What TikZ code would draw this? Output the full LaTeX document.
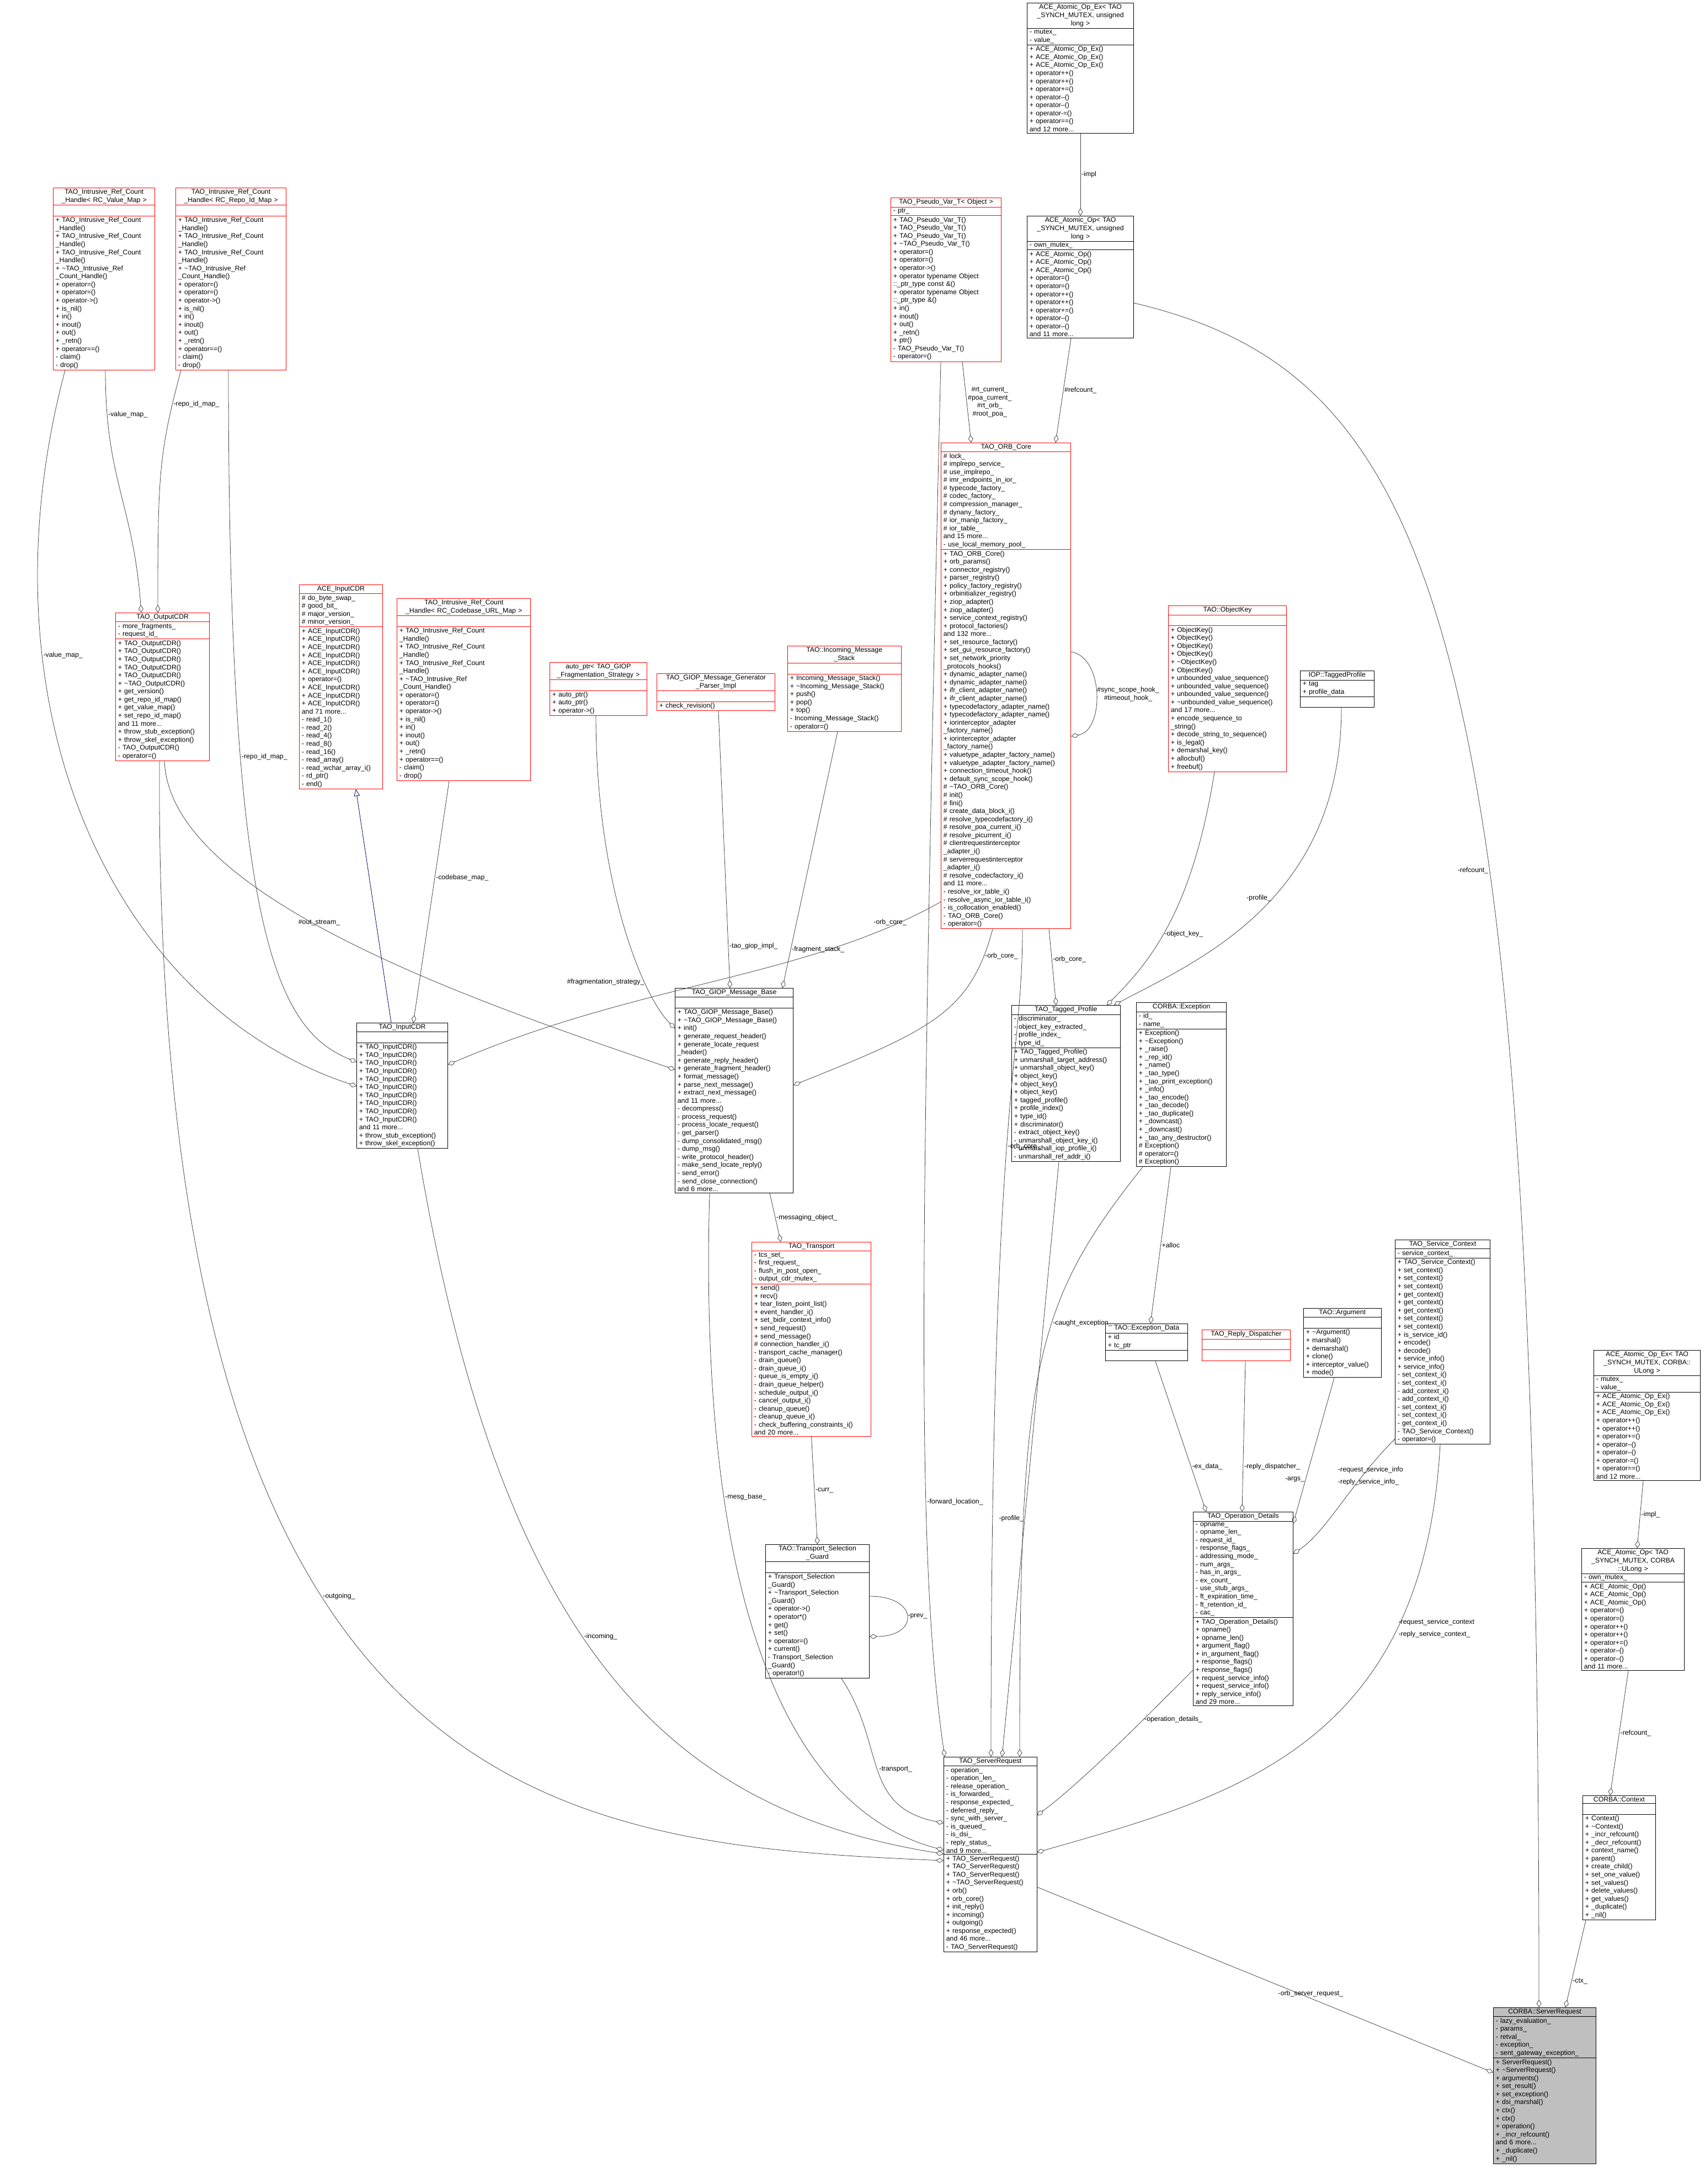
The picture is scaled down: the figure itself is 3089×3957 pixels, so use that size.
\documentclass[tikz,border=0pt]{standalone}
\usepackage{fontspec}
\setmainfont{Liberation Sans}
\usetikzlibrary{shapes.multipart,arrows.meta,calc,positioning}
\newcommand\dt{\textasciitilde}

\begin{document}
\catcode`\_=12
\begin{tikzpicture}[x=0.02cm,y=-0.02cm,
  every node/.style={font=\fontsize{7}{8.3}\selectfont},%
  c/.style={rectangle split,rectangle split parts=3,draw=black,anchor=north west,%
    align=left,inner xsep=2.5pt,inner ysep=1.2pt,line width=.5pt,text width=#1},%
  rc/.style={c=#1,draw=red},%
  g/.style={c=#1,fill=black!25},%
  a/.style={-{Diamond[open,length=8pt,width=5pt]},draw=black!75,line width=.45pt},%
  inh/.style={-{Triangle[open,length=7pt,width=6pt]},draw=blue!40!black,line width=.45pt},%
  l/.style={font=\fontsize{7}{8.3}\selectfont,inner sep=1pt,align=center},%
  ]
  \useasboundingbox (0,0) rectangle (3089,3957);

  \node (vmap) [rc=100pt] at (96,340) {\hfill TAO_Intrusive_Ref_Count\hfill\null\\\hfill_Handle< RC_Value_Map >\hfill\null
    \nodepart{two}\strut
    \nodepart{three}+ TAO_Intrusive_Ref_Count\\_Handle()\\+ TAO_Intrusive_Ref_Count\\_Handle()\\+ TAO_Intrusive_Ref_Count\\_Handle()\\+ \dt TAO_Intrusive_Ref\\_Count_Handle()\\+ operator=()\\+ operator=()\\+ operator->()\\+ is_nil()\\+ in()\\+ inout()\\+ out()\\+ _retn()\\+ operator==()\\- claim()\\- drop()};
  \node (rmap) [rc=109pt] at (318,340) {\hfill TAO_Intrusive_Ref_Count\hfill\null\\\hfill_Handle< RC_Repo_Id_Map >\hfill\null
    \nodepart{two}\strut
    \nodepart{three}+ TAO_Intrusive_Ref_Count\\_Handle()\\+ TAO_Intrusive_Ref_Count\\_Handle()\\+ TAO_Intrusive_Ref_Count\\_Handle()\\+ \dt TAO_Intrusive_Ref\\_Count_Handle()\\+ operator=()\\+ operator=()\\+ operator->()\\+ is_nil()\\+ in()\\+ inout()\\+ out()\\+ _retn()\\+ operator==()\\- claim()\\- drop()};
  \node (opexl) [c=105pt] at (1861,5) {\hfill ACE_Atomic_Op_Ex< TAO\hfill\null\\\hfill_SYNCH_MUTEX, unsigned\hfill\null\\\hfill long >\hfill\null
    \nodepart{two}- mutex_\\- value_
    \nodepart{three}+ ACE_Atomic_Op_Ex()\\+ ACE_Atomic_Op_Ex()\\+ ACE_Atomic_Op_Ex()\\+ operator++()\\+ operator++()\\+ operator+=()\\+ operator--()\\+ operator--()\\+ operator-=()\\+ operator==()\\and 12 more...};
  \node (pvar) [rc=109pt] at (1614,358) {\hfill TAO_Pseudo_Var_T< Object >\hfill\null
    \nodepart{two}- ptr_
    \nodepart{three}+ TAO_Pseudo_Var_T()\\+ TAO_Pseudo_Var_T()\\+ TAO_Pseudo_Var_T()\\+ \dt TAO_Pseudo_Var_T()\\+ operator=()\\+ operator=()\\+ operator->()\\+ operator typename Object\\::_ptr_type const \&()\\+ operator typename Object\\::_ptr_type \&()\\+ in()\\+ inout()\\+ out()\\+ _retn()\\+ ptr()\\- TAO_Pseudo_Var_T()\\- operator=()};
  \node (opl) [c=105pt] at (1861,391) {\hfill ACE_Atomic_Op< TAO\hfill\null\\\hfill_SYNCH_MUTEX, unsigned\hfill\null\\\hfill long >\hfill\null
    \nodepart{two}- own_mutex_
    \nodepart{three}+ ACE_Atomic_Op()\\+ ACE_Atomic_Op()\\+ ACE_Atomic_Op()\\+ operator=()\\+ operator=()\\+ operator++()\\+ operator++()\\+ operator+=()\\+ operator--()\\+ operator--()\\and 11 more...};
  \node (ocdr) [rc=92pt] at (209,1110) {\hfill TAO_OutputCDR\hfill\null
    \nodepart{two}- more_fragments_\\- request_id_
    \nodepart{three}+ TAO_OutputCDR()\\+ TAO_OutputCDR()\\+ TAO_OutputCDR()\\+ TAO_OutputCDR()\\+ TAO_OutputCDR()\\+ \dt TAO_OutputCDR()\\+ get_version()\\+ get_repo_id_map()\\+ get_value_map()\\+ set_repo_id_map()\\and 11 more...\\+ throw_stub_exception()\\+ throw_skel_exception()\\- TAO_OutputCDR()\\- operator=()};
  \node (acecdr) [rc=81pt] at (542,1059) {\hfill ACE_InputCDR\hfill\null
    \nodepart{two}\# do_byte_swap_\\\# good_bit_\\\# major_version_\\\# minor_version_
    \nodepart{three}+ ACE_InputCDR()\\+ ACE_InputCDR()\\+ ACE_InputCDR()\\+ ACE_InputCDR()\\+ ACE_InputCDR()\\+ ACE_InputCDR()\\+ operator=()\\+ ACE_InputCDR()\\+ ACE_InputCDR()\\+ ACE_InputCDR()\\and 71 more...\\- read_1()\\- read_2()\\- read_4()\\- read_8()\\- read_16()\\- read_array()\\- read_wchar_array_i()\\- rd_ptr()\\- end()};
  \node (cmap) [rc=133pt] at (719,1084) {\hfill TAO_Intrusive_Ref_Count\hfill\null\\\hfill_Handle< RC_Codebase_URL_Map >\hfill\null
    \nodepart{two}\strut
    \nodepart{three}+ TAO_Intrusive_Ref_Count\\_Handle()\\+ TAO_Intrusive_Ref_Count\\_Handle()\\+ TAO_Intrusive_Ref_Count\\_Handle()\\+ \dt TAO_Intrusive_Ref\\_Count_Handle()\\+ operator=()\\+ operator=()\\+ operator->()\\+ is_nil()\\+ in()\\+ inout()\\+ out()\\+ _retn()\\+ operator==()\\- claim()\\- drop()};
  \node (aptr) [rc=95pt] at (996,1200) {\hfill auto_ptr< TAO_GIOP\hfill\null\\\hfill_Fragmentation_Strategy >\hfill\null
    \nodepart{two}\strut
    \nodepart{three}+ auto_ptr()\\+ auto_ptr()\\+ operator->()};
  \node (gpi) [rc=117pt] at (1190,1220) {\hfill TAO_GIOP_Message_Generator\hfill\null\\\hfill_Parser_Impl\hfill\null
    \nodepart{two}\strut
    \nodepart{three}+ check_revision()};
  \node (ims) [rc=112pt] at (1427,1170) {\hfill TAO::Incoming_Message\hfill\null\\\hfill_Stack\hfill\null
    \nodepart{two}\strut
    \nodepart{three}+ Incoming_Message_Stack()\\+ \dt Incoming_Message_Stack()\\+ push()\\+ pop()\\+ top()\\- Incoming_Message_Stack()\\- operator=()};
  \node (orb) [rc=129pt] at (1705,802) {\hfill TAO_ORB_Core\hfill\null
    \nodepart{two}\# lock_\\\# implrepo_service_\\\# use_implrepo_\\\# imr_endpoints_in_ior_\\\# typecode_factory_\\\# codec_factory_\\\# compression_manager_\\\# dynany_factory_\\\# ior_manip_factory_\\\# ior_table_\\and 15 more...\\- use_local_memory_pool_
    \nodepart{three}+ TAO_ORB_Core()\\+ orb_params()\\+ connector_registry()\\+ parser_registry()\\+ policy_factory_registry()\\+ orbinitializer_registry()\\+ ziop_adapter()\\+ ziop_adapter()\\+ service_context_registry()\\+ protocol_factories()\\and 132 more...\\+ set_resource_factory()\\+ set_gui_resource_factory()\\+ set_network_priority\\_protocols_hooks()\\+ dynamic_adapter_name()\\+ dynamic_adapter_name()\\+ ifr_client_adapter_name()\\+ ifr_client_adapter_name()\\+ typecodefactory_adapter_name()\\+ typecodefactory_adapter_name()\\+ iorinterceptor_adapter\\_factory_name()\\+ iorinterceptor_adapter\\_factory_name()\\+ valuetype_adapter_factory_name()\\+ valuetype_adapter_factory_name()\\+ connection_timeout_hook()\\+ default_sync_scope_hook()\\\# \dt TAO_ORB_Core()\\\# init()\\\# fini()\\\# create_data_block_i()\\\# resolve_typecodefactory_i()\\\# resolve_poa_current_i()\\\# resolve_picurrent_i()\\\# clientrequestinterceptor\\_adapter_i()\\\# serverrequestinterceptor\\_adapter_i()\\\# resolve_codecfactory_i()\\and 11 more...\\- resolve_ior_table_i()\\- resolve_async_ior_table_i()\\- is_collocation_enabled()\\- TAO_ORB_Core()\\- operator=()};
  \node (okey) [rc=117pt] at (2117,1097) {\hfill TAO::ObjectKey\hfill\null
    \nodepart{two}\strut
    \nodepart{three}+ ObjectKey()\\+ ObjectKey()\\+ ObjectKey()\\+ ObjectKey()\\+ \dt ObjectKey()\\+ ObjectKey()\\+ unbounded_value_sequence()\\+ unbounded_value_sequence()\\+ unbounded_value_sequence()\\+ \dt unbounded_value_sequence()\\and 17 more...\\+ encode_sequence_to\\_string()\\+ decode_string_to_sequence()\\+ is_legal()\\+ demarshal_key()\\+ allocbuf()\\+ freebuf()};
  \node (iopp) [c=71pt] at (2356,1215) {\hfill IOP::TaggedProfile\hfill\null
    \nodepart{two}+ tag\\+ profile_data
    \nodepart{three}\strut};
  \node (icdr) [c=89pt] at (646,1853) {\hfill TAO_InputCDR\hfill\null
    \nodepart{two}\strut
    \nodepart{three}+ TAO_InputCDR()\\+ TAO_InputCDR()\\+ TAO_InputCDR()\\+ TAO_InputCDR()\\+ TAO_InputCDR()\\+ TAO_InputCDR()\\+ TAO_InputCDR()\\+ TAO_InputCDR()\\+ TAO_InputCDR()\\+ TAO_InputCDR()\\and 11 more...\\+ throw_stub_exception()\\+ throw_skel_exception()};
  \node (giop) [c=117pt] at (1223,1790) {\hfill TAO_GIOP_Message_Base\hfill\null
    \nodepart{two}\strut
    \nodepart{three}+ TAO_GIOP_Message_Base()\\+ \dt TAO_GIOP_Message_Base()\\+ init()\\+ generate_request_header()\\+ generate_locate_request\\_header()\\+ generate_reply_header()\\+ generate_fragment_header()\\+ format_message()\\+ parse_next_message()\\+ extract_next_message()\\and 11 more...\\- decompress()\\- process_request()\\- process_locate_request()\\- get_parser()\\- dump_consolidated_msg()\\- dump_msg()\\- write_protocol_header()\\- make_send_locate_reply()\\- send_error()\\- send_close_connection()\\and 6 more...};
  \node (tprof) [c=107pt] at (1833,1821) {\hfill TAO_Tagged_Profile\hfill\null
    \nodepart{two}- discriminator_\\- object_key_extracted_\\- profile_index_\\- type_id_
    \nodepart{three}+ TAO_Tagged_Profile()\\+ unmarshall_target_address()\\+ unmarshall_object_key()\\+ object_key()\\+ object_key()\\+ object_key()\\+ tagged_profile()\\+ profile_index()\\+ type_id()\\+ discriminator()\\- extract_object_key()\\- unmarshall_object_key_i()\\- unmarshall_iop_profile_i()\\- unmarshall_ref_addr_i()};
  \node (cexc) [c=88pt] at (2059,1816) {\hfill CORBA::Exception\hfill\null
    \nodepart{two}- id_\\- name_
    \nodepart{three}+ Exception()\\+ \dt Exception()\\+ _raise()\\+ _rep_id()\\+ _name()\\+ _tao_type()\\+ _tao_print_exception()\\+ _info()\\+ _tao_encode()\\+ _tao_decode()\\+ _tao_duplicate()\\+ _downcast()\\+ _downcast()\\+ _tao_any_destructor()\\\# Exception()\\\# operator=()\\\# Exception()};
  \node (trans) [rc=118pt] at (1362,2250) {\hfill TAO_Transport\hfill\null
    \nodepart{two}- tcs_set_\\- first_request_\\- flush_in_post_open_\\- output_cdr_mutex_
    \nodepart{three}+ send()\\+ recv()\\+ tear_listen_point_list()\\+ event_handler_i()\\+ set_bidir_context_info()\\+ send_request()\\+ send_message()\\\# connection_handler_i()\\- transport_cache_manager()\\- drain_queue()\\- drain_queue_i()\\- queue_is_empty_i()\\- drain_queue_helper()\\- schedule_output_i()\\- cancel_output_i()\\- cleanup_queue()\\- cleanup_queue_i()\\- check_buffering_constraints_i()\\and 20 more...};
  \node (sctx) [c=93pt] at (2528,2246) {\hfill TAO_Service_Context\hfill\null
    \nodepart{two}- service_context_
    \nodepart{three}+ TAO_Service_Context()\\+ set_context()\\+ set_context()\\+ set_context()\\+ get_context()\\+ get_context()\\+ get_context()\\+ set_context()\\+ set_context()\\+ is_service_id()\\+ encode()\\+ decode()\\+ service_info()\\+ service_info()\\- set_context_i()\\- set_context_i()\\- add_context_i()\\- add_context_i()\\- set_context_i()\\- set_context_i()\\- get_context_i()\\- TAO_Service_Context()\\- operator=()};
  \node (edata) [c=80pt] at (2003,2398) {\hfill TAO::Exception_Data\hfill\null
    \nodepart{two}+ id\\+ tc_ptr
    \nodepart{three}\strut};
  \node (rdisp) [rc=86pt] at (2178,2409) {\hfill TAO_Reply_Dispatcher\hfill\null
    \nodepart{two}\strut
    \nodepart{three}\strut};
  \node (arg) [c=75pt] at (2362,2370) {\hfill TAO::Argument\hfill\null
    \nodepart{two}\strut
    \nodepart{three}+ \dt Argument()\\+ marshal()\\+ demarshal()\\+ clone()\\+ interceptor_value()\\+ mode()};
  \node (opexu) [c=105pt] at (2888,2446) {\hfill ACE_Atomic_Op_Ex< TAO\hfill\null\\\hfill_SYNCH_MUTEX, CORBA::\hfill\null\\\hfill ULong >\hfill\null
    \nodepart{two}- mutex_\\- value_
    \nodepart{three}+ ACE_Atomic_Op_Ex()\\+ ACE_Atomic_Op_Ex()\\+ ACE_Atomic_Op_Ex()\\+ operator++()\\+ operator++()\\+ operator+=()\\+ operator--()\\+ operator--()\\+ operator-=()\\+ operator==()\\and 12 more...};
  \node (opdet) [c=98pt] at (2162,2739) {\hfill TAO_Operation_Details\hfill\null
    \nodepart{two}- opname_\\- opname_len_\\- request_id_\\- response_flags_\\- addressing_mode_\\- num_args_\\- has_in_args_\\- ex_count_\\- use_stub_args_\\- ft_expiration_time_\\- ft_retention_id_\\- cac_
    \nodepart{three}+ TAO_Operation_Details()\\+ opname()\\+ opname_len()\\+ argument_flag()\\+ in_argument_flag()\\+ response_flags()\\+ response_flags()\\+ request_service_info()\\+ request_service_info()\\+ reply_service_info()\\and 29 more...};
  \node (tsg) [c=102pt] at (1387,2798) {\hfill TAO::Transport_Selection\hfill\null\\\hfill_Guard\hfill\null
    \nodepart{two}\strut
    \nodepart{three}+ Transport_Selection\\_Guard()\\+ \dt Transport_Selection\\_Guard()\\+ operator->()\\+ operator*()\\+ get()\\+ set()\\+ operator=()\\+ current()\\- Transport_Selection\\_Guard()\\- operator!()};
  \node (opu) [c=101pt] at (2866,2805) {\hfill ACE_Atomic_Op< TAO\hfill\null\\\hfill_SYNCH_MUTEX, CORBA\hfill\null\\\hfill::ULong >\hfill\null
    \nodepart{two}- own_mutex_
    \nodepart{three}+ ACE_Atomic_Op()\\+ ACE_Atomic_Op()\\+ ACE_Atomic_Op()\\+ operator=()\\+ operator=()\\+ operator++()\\+ operator++()\\+ operator+=()\\+ operator--()\\+ operator--()\\and 11 more...};
  \node (tsr) [c=91pt] at (1710,3183) {\hfill TAO_ServerRequest\hfill\null
    \nodepart{two}- operation_\\- operation_len_\\- release_operation_\\- is_forwarded_\\- response_expected_\\- deferred_reply_\\- sync_with_server_\\- is_queued_\\- is_dsi_\\- reply_status_\\and 9 more...
    \nodepart{three}+ TAO_ServerRequest()\\+ TAO_ServerRequest()\\+ TAO_ServerRequest()\\+ \dt TAO_ServerRequest()\\+ orb()\\+ orb_core()\\+ init_reply()\\+ incoming()\\+ outgoing()\\+ response_expected()\\and 46 more...\\- TAO_ServerRequest()};
  \node (ctx) [c=70pt] at (2868,3253) {\hfill CORBA::Context\hfill\null
    \nodepart{two}\strut
    \nodepart{three}+ Context()\\+ \dt Context()\\+ _incr_refcount()\\+ _decr_refcount()\\+ context_name()\\+ parent()\\+ create_child()\\+ set_one_value()\\+ set_values()\\+ delete_values()\\+ get_values()\\+ _duplicate()\\+ _nil()};
  \node (csr) [g=101pt] at (2706,3637) {\hfill CORBA::ServerRequest\hfill\null
    \nodepart{two}- lazy_evaluation_\\- params_\\- retval_\\- exception_\\- sent_gateway_exception_
    \nodepart{three}+ ServerRequest()\\+ \dt ServerRequest()\\+ arguments()\\+ set_result()\\+ set_exception()\\+ dsi_marshal()\\+ ctx()\\+ ctx()\\+ operation()\\+ _incr_refcount()\\and 6 more...\\+ _duplicate()\\+ _nil()};

  % top right: atomic ops and orb core
  \draw [a] (opexl.south) -- node[l,right] {-impl} (opl.north);
  \draw [a] ($(opl.south west)+(80,0)$) -- node[l,right] {\#refcount_} ($(orb.north west)+(208,0)$);
  \draw [a] ($(opl.north east)+(0,158)$) .. controls +(550,130) and ($(csr.north west)+(83,-2500)$) .. node[l,left,pos=.62] {-refcount_} ($(csr.north west)+(83,0)$);
  \draw [a] ($(pvar.south west)+(130,0)$) -- node[l,right] {\#rt_current_\\\#poa_current_\\\#rt_orb_\\\#root_poa_} ($(orb.north west)+(55,0)$);
  \draw [a] ($(pvar.south west)+(91,0)$) .. controls +(-40,1700) and +(-50,-350) .. node[l,right,pos=.65] {-forward_location_} ($(tsr.north west)+(2,0)$);
  \draw [a] ($(orb.north east)+(0,379)$) .. controls +(60,10) and +(60,-10) .. node[l,right] {\#sync_scope_hook_\\\#timeout_hook_} ($(orb.north east)+(0,532)$);
  % cdr streams
  \draw [a] ($(vmap.south west)+(95,0)$) .. controls +(0,200) and +(-15,-200) .. node[l,right,pos=.15] {-value_map_} ($(ocdr.north west)+(47,0)$);
  \draw [a] ($(rmap.south west)+(10,0)$) .. controls +(-40,150) and +(0,-250) .. node[l,right,pos=.15] {-repo_id_map_} ($(ocdr.north west)+(77,0)$);
  \draw [a] ($(vmap.south west)+(22,0)$) .. controls +(-160,600) and +(-450,-150) .. node[l,right,pos=.3] {-value_map_} ($(icdr.north west)+(0,115)$);
  \draw [a] ($(rmap.south west)+(96,0)$) .. controls +(0,1000) and +(-150,-60) .. node[l,right,pos=.3] {-repo_id_map_} ($(icdr.north west)+(0,71)$);
  \draw [inh] ($(icdr.north west)+(63,0)$) -- ($(acecdr.south west)+(103,0)$);
  \draw [a] ($(cmap.south west)+(95,0)$) -- node[l,right,pos=.4] {-codebase_map_} ($(icdr.north west)+(103,0)$);
  \draw [a] ($(ocdr.south west)+(89,0)$) .. controls +(10,250) and +(-350,-120) .. node[l,above,pos=.45] {\#out_stream_} ($(giop.north west)+(0,148)$);
  \draw [a] ($(ocdr.south west)+(80,0)$) .. controls +(-10,1900) and +(-700,-30) .. node[l,right,pos=.4] {-outgoing_} ($(tsr.north west)+(0,188)$);
  \draw [a] ($(icdr.south west)+(111,0)$) .. controls +(150,900) and +(-500,-80) .. node[l,right,pos=.45] {-incoming_} ($(tsr.north west)+(0,176)$);
  % message base
  \draw [a] ($(aptr.south west)+(84,0)$) .. controls +(0,300) and +(-60,-60) .. node[l,left,pos=.72] {\#fragmentation_strategy_} ($(giop.north west)+(0,73)$);
  \draw [a] ($(gpi.south west)+(112,0)$) -- node[l,right,pos=.85] {-tao_giop_impl_} ($(giop.north west)+(100,0)$);
  \draw [a] ($(ims.south west)+(91,0)$) -- node[l,right,pos=.85] {-fragment_stack_} ($(giop.north west)+(195,0)$);
  \draw [a] ($(orb.north west)+(0,832)$) .. controls +(-250,140) and +(350,-150) .. node[l,above,pos=.12] {-orb_core_} ($(icdr.north east)+(0,76)$);
  \draw [a] ($(orb.south west)+(94,0)$) .. controls +(-40,150) and +(250,-100) .. node[l,right,pos=.12] {-orb_core_} ($(giop.north east)+(0,176)$);
  \draw [a] ($(orb.south west)+(196,0)$) -- node[l,right,pos=.4] {-orb_core_} ($(tprof.north west)+(81,0)$);
  \draw [a] ($(orb.south west)+(148,0)$) .. controls +(0,250) and +(0,-1200) .. node[l,right,pos=.5] {-orb_core_} ($(tsr.north west)+(86,0)$);
  \draw [a] ($(okey.south west)+(84,0)$) .. controls +(-40,250) and +(80,-80) .. node[l,right,pos=.55] {-object_key_} ($(tprof.north west)+(173,0)$);
  \draw [a] ($(iopp.south west)+(75,0)$) .. controls +(0,350) and +(150,-80) .. node[l,left,pos=.45] {-profile_} ($(tprof.north west)+(186,0)$);
  \draw [a] ($(giop.south west)+(63,0)$) .. controls +(-20,700) and +(-300,-80) .. node[l,right,pos=.3] {-mesg_base_} ($(tsr.north west)+(0,169)$);
  \draw [a] ($(giop.south west)+(172,0)$) -- node[l,right] {-messaging_object_} ($(trans.north west)+(53,0)$);
  \draw [a] ($(tprof.south west)+(86,0)$) -- node[l,left,pos=.6] {-profile_} ($(tsr.north west)+(106,0)$);
  \draw [a] ($(cexc.south west)+(12,0)$) .. controls +(-200,250) and +(0,-700) .. node[l,right,pos=.4] {-caught_exception_} ($(tsr.north west)+(138,0)$);
  \draw [a] ($(cexc.south west)+(63,0)$) -- node[l,right] {+alloc} ($(edata.north west)+(82,0)$);
  \draw [a] (trans.south) -- node[l,right] {-curr_} (tsg.north);
  \draw [a] ($(tsg.north east)+(0,94)$) .. controls +(90,0) and +(90,0) .. node[l,right] {-prev_} ($(tsg.north east)+(0,167)$);
  \draw [a] ($(tsg.south west)+(138,0)$) .. controls +(80,120) and +(-150,-30) .. node[l,right,pos=.5] {-transport_} ($(tsr.north west)+(0,120)$);
  % operation details
  \draw [a] ($(edata.south west)+(91,0)$) -- node[l,right,pos=.7] {-ex_data_} ($(opdet.north west)+(24,0)$);
  \draw [a] ($(rdisp.south west)+(79,0)$) -- node[l,right,pos=.7] {-reply_dispatcher_} ($(opdet.north west)+(89,0)$);
  \draw [a] ($(arg.south west)+(56,0)$) -- node[l,left,pos=.7] {-args_} ($(opdet.north east)+(0,21)$);
  \draw [a] ($(sctx.south west)+(0,-10)$) .. controls +(-80,80) and +(60,-40) .. node[l,below,pos=.2,align=left] {-request_service_info\\[4pt]-reply_service_info_} ($(opdet.north east)+(0,76)$);
  \draw [a] ($(sctx.south west)+(82,0)$) .. controls +(-30,550) and +(350,-100) .. node[l,right,pos=.25,align=left] {-request_service_context\\[4pt]-reply_service_context_} ($(tsr.north east)+(0,173)$);
  \draw [a] ($(opdet.north west)+(0,287)$) .. controls +(-100,100) and +(80,-60) .. node[l,right,pos=.3] {-operation_details_} ($(tsr.north east)+(0,106)$);
  % corba side
  \draw [a] ($(opexu.south west)+(90,0)$) -- node[l,right] {-impl_} ($(opu.north west)+(101,0)$);
  \draw [a] ($(opu.south west)+(85,0)$) -- node[l,right] {-refcount_} ($(ctx.north west)+(50,0)$);
  \draw [a] ($(ctx.south west)+(6,0)$) -- node[l,right,pos=.7] {-ctx_} ($(csr.north west)+(131,0)$);
  \draw [a] ($(tsr.north east)+(0,236)$) -- node[l,above,pos=.6] {-orb_server_request_} ($(csr.north west)+(0,118)$);
\end{tikzpicture}
\end{document}
